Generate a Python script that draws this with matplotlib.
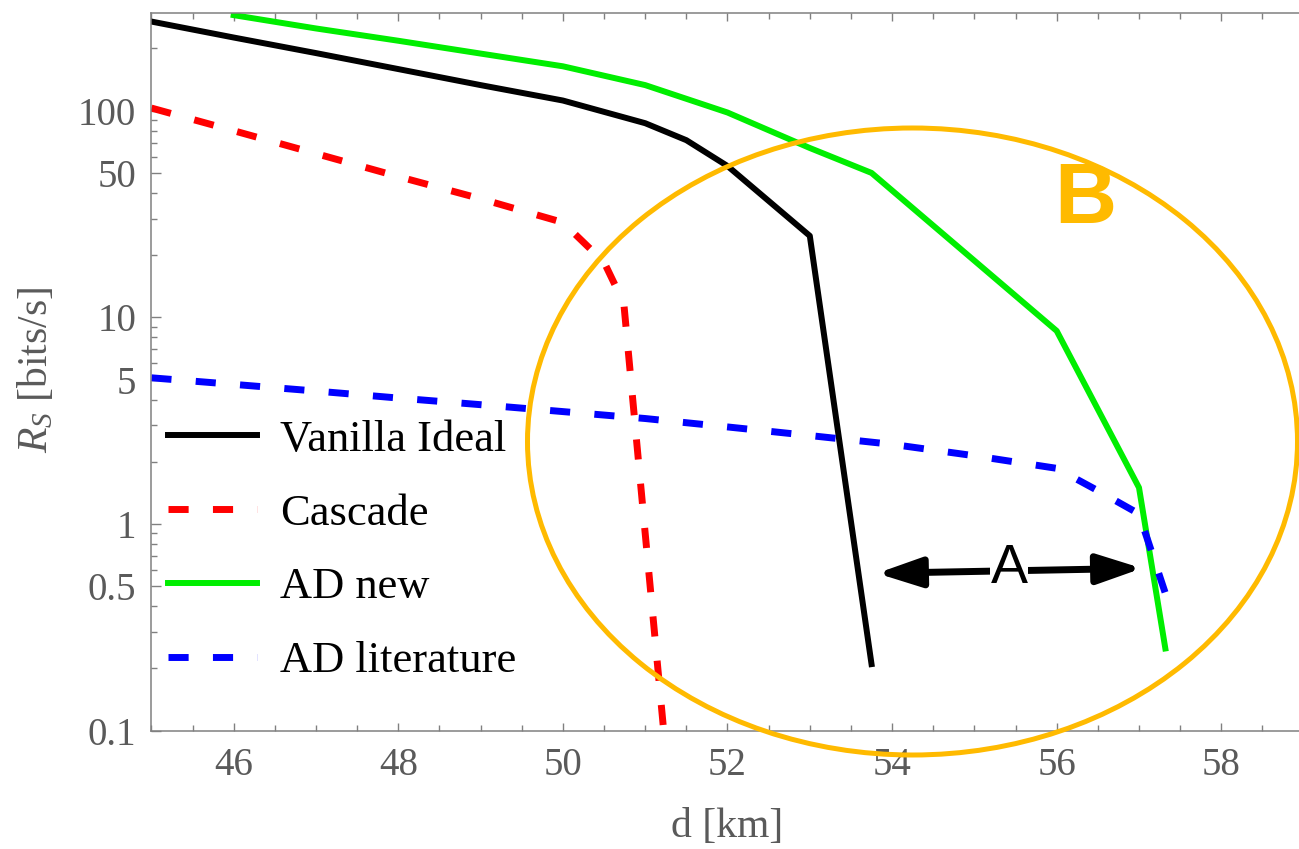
import matplotlib
matplotlib.use("Agg")
import matplotlib.pyplot as plt
from matplotlib import font_manager
from matplotlib.patches import Ellipse, FancyArrowPatch
from matplotlib.ticker import FixedLocator, FixedFormatter, MultipleLocator, LogLocator, NullFormatter

# ---------------- data ----------------
vanilla_d = [45, 46, 47, 48, 49, 50, 51, 51.5, 52, 53, 53.75]
vanilla_r = [270, 226, 190, 159, 133, 112, 87, 72, 54, 24.8, 0.21]

cascade_d = [45, 46, 47, 48, 49, 50, 50.5, 50.74, 51.0, 51.25]
cascade_r = [103, 80, 62, 48, 37.5, 28.8, 18.5, 11.7, 0.9, 0.078]

adnew_d = [46, 47, 48, 49, 50, 51, 52, 53, 53.75, 56, 57, 57.32]
adnew_r = [290, 250, 218, 189, 164, 133, 98, 66, 50, 8.6, 1.5, 0.25]

adlit_d = [45, 46, 47, 48, 49, 50, 51, 52, 53, 54, 55, 56, 56.5, 57, 57.33]
adlit_r = [5.1, 4.74, 4.40, 4.07, 3.78, 3.5, 3.24, 2.95, 2.68, 2.43, 2.14, 1.86, 1.45, 1.12, 0.45]

series_labels = ["Vanilla Ideal", "Cascade", "AD new", "AD literature"]
xticks = [46, 48, 50, 52, 54, 56, 58]
yticks = [0.1, 0.5, 1, 5, 10, 50, 100]
ytick_labels = ["0.1", "0.5", "1", "5", "10", "50", "100"]

# ---------------- fonts ----------------
available = sorted({f.name for f in font_manager.fontManager.ttflist})
serif_pref = [n for n in ['Liberation Serif', 'Times New Roman', 'Nimbus Roman', 'DejaVu Serif', 'Noto Serif']
              if n in available]
SERIF = serif_pref[0] if serif_pref else 'serif'
sans_pref = [n for n in ['Liberation Sans', 'Arial', 'DejaVu Sans'] if n in available]
SANS = sans_pref[0] if sans_pref else 'sans-serif'

plt.rcParams['font.family'] = [SERIF, 'DejaVu Serif']
plt.rcParams['mathtext.fontset'] = 'custom'
plt.rcParams['mathtext.rm'] = SERIF
plt.rcParams['mathtext.it'] = SERIF + ':italic'

GRAY = '#5a5a5a'
SPINE = '#808080'
ORANGE = '#FFBA00'

W, H = 1299, 849
fig = plt.figure(figsize=(W / 100, H / 100), dpi=100)
left_px, bottom_px, top_px = 151.4, 730.7, 13.3
px_per_unit = 82.3
ax = fig.add_axes([left_px / W, 1 - bottom_px / H, 14 * px_per_unit / W, (bottom_px - top_px) / H])

lw = 4.3
lw_d = 5.0
ax.plot(vanilla_d, vanilla_r, color='black', lw=lw, label=series_labels[0])
ax.plot(cascade_d, cascade_r, color='#ff0000', lw=lw_d, dashes=(2.9, 3.5), label=series_labels[1])
ax.plot(adnew_d, adnew_r, color='#00ee00', lw=lw, label=series_labels[2])
ax.plot(adlit_d, adlit_r, color='#0000ff', lw=lw_d, dashes=(2.9, 3.5), label=series_labels[3])

ax.set_yscale('log')
ax.set_xlim(45, 59)
ax.set_ylim(0.1, 296)

ax.xaxis.set_major_locator(FixedLocator(xticks))
ax.xaxis.set_minor_locator(MultipleLocator(0.5))
ax.yaxis.set_major_locator(FixedLocator(yticks))
ax.yaxis.set_major_formatter(FixedFormatter(ytick_labels))
ax.yaxis.set_minor_locator(LogLocator(base=10, subs=(2, 3, 4, 5, 6, 7, 8, 9)))
ax.yaxis.set_minor_formatter(NullFormatter())

for s in ['left', 'bottom', 'top']:
    ax.spines[s].set_color(SPINE)
    ax.spines[s].set_linewidth(1.1)
ax.spines['right'].set_visible(False)

ax.tick_params(axis='both', which='both', direction='in', color=SPINE, width=1.0,
               labelcolor=GRAY, labelsize=28)
ax.tick_params(axis='x', which='both', top=True, bottom=True)
ax.tick_params(axis='y', which='both', left=True, right=False)
ax.tick_params(axis='x', which='major', length=6, pad=12)
ax.tick_params(axis='x', which='minor', length=4)
ax.tick_params(axis='y', which='major', length=7, pad=11)
ax.tick_params(axis='y', which='minor', length=4)

ax.set_xlabel("d [km]", fontsize=30, color=GRAY)
ax.xaxis.label.set_va('center')
ax.xaxis.set_label_coords(0.5, (bottom_px - 827) / (bottom_px - top_px))
ax.set_ylabel(r"$R_S$ [bits/s]", fontsize=30, color=GRAY)
ax.yaxis.label.set_va('center')
ax.yaxis.set_label_coords(-(left_px - 36) / (14 * px_per_unit), (bottom_px - 370) / (bottom_px - top_px))

leg = ax.legend(loc='upper left', bbox_to_anchor=(0.0144, 0.4335), frameon=False,
                fontsize=32, handlelength=2.0, handletextpad=0.52, labelspacing=0.757,
                borderpad=0, borderaxespad=0)

# ---------------- annotations ----------------
ell = Ellipse((912.5 / W, 1 - 441.5 / H), 770 / W, 627 / H, transform=fig.transFigure,
              fill=False, edgecolor=ORANGE, lw=3.6, zorder=10)
fig.add_artist(ell)

fig.text(1085.5 / W, 1 - 201 / H, "B", fontsize=62, fontweight='bold', color=ORANGE,
         family=SANS, ha='center', va='center', zorder=11)

arr = FancyArrowPatch((877 / W, 1 - 573.3 / H), (1142 / W, 1 - 568.3 / H), transform=fig.transFigure,
                      arrowstyle='<|-|>,head_length=27,head_width=9', mutation_scale=1,
                      color='black', lw=5, zorder=11, shrinkA=0, shrinkB=0)
fig.add_artist(arr)
fig.text(1009 / W, 1 - 569 / H, "A", fontsize=40, color='black', family=SANS,
         ha='center', va='center', zorder=12,
         bbox=dict(facecolor='white', edgecolor='none', pad=0.5))

fig.savefig("out.png", dpi=100)
